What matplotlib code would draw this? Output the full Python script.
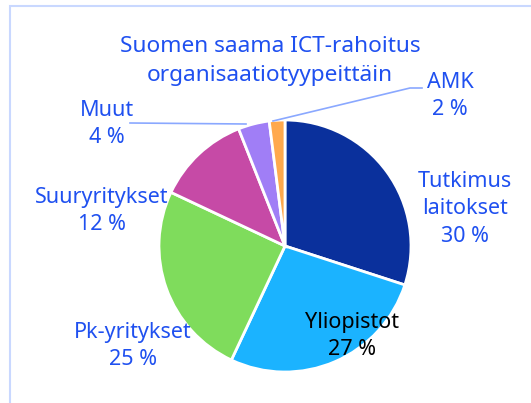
import matplotlib.pyplot as plt
from matplotlib.patches import Rectangle

# Data
categories = ["Tutkimus\nlaitokset", "Yliopistot", "Pk-yritykset", "Suuryritykset", "Muut", "AMK"]
shares = [30, 27, 25, 12, 4, 2]
colors = ["#0A309C", "#1BB3FF", "#7FDC5C", "#C64AA6", "#A07EF6", "#FFA94D"]

text_blue = "#1F50F0"
plt.rcParams['font.family'] = ['Noto Sans', 'DejaVu Sans']

fig = plt.figure(figsize=(5.31, 4.03), dpi=100)
ax = fig.add_axes([0, 0, 1, 1])

# light frame
fig.patches.append(Rectangle((10 / 531, -0.1), 1.2, (403 - 6) / 403 + 0.1,
                             transform=fig.transFigure, fill=False,
                             edgecolor="#C9D8FF", lw=1.5))

cx, cy, r = 285, 403 - 246, 126
ax.pie(shares, colors=colors, startangle=90, counterclock=False,
       center=(cx, cy), radius=r, frame=True,
       wedgeprops=dict(edgecolor="white", linewidth=2))
ax.set_xlim(0, 531)
ax.set_ylim(0, 403)
ax.axis("off")

fs = 15.5
ax.text(270, 403 - 61, "Suomen saama ICT-rahoitus\norganisaatiotyypeittäin",
        ha="center", va="center", color=text_blue, fontsize=16.3, linespacing=1.48)

label_pos = [(465, 403 - 209), (352, 403 - 336), (133, 403 - 346),
             (102, 403 - 211), (107, 403 - 124), (450, 403 - 96)]
for i, (name, val) in enumerate(zip(categories, shares)):
    col = "black" if name == "Yliopistot" else text_blue
    ax.text(label_pos[i][0], label_pos[i][1], f"{name}\n{val} %",
            ha="center", va="center", color=col, fontsize=fs, linespacing=1.42)

# leader lines
lc = "#8AA8FF"
ax.plot([130, 246], [403 - 123, 403 - 124], color=lc, lw=1.2)
ax.plot([422, 410, 273], [403 - 88, 403 - 88, 403 - 121], color=lc, lw=1.2)

fig.savefig("out.png", dpi=100)
